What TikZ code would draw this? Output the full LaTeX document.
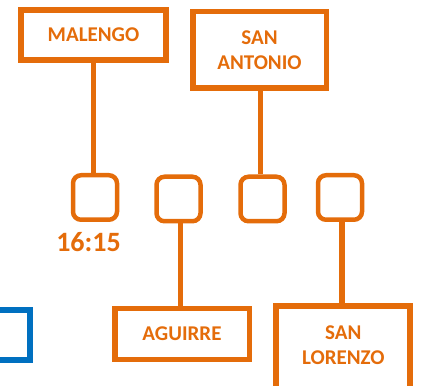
\documentclass[tikz,border=0pt]{standalone}
\usepackage{fontspec}
\setmainfont{Carlito}
\definecolor{org}{RGB}{228,108,10}
\definecolor{blu}{RGB}{0,112,192}
\begin{document}
\begin{tikzpicture}[x=1pt,y=1pt,
  lbl/.style={draw=org, line width=5.5pt, text=org, font=\bfseries\fontsize{21}{25}\selectfont, align=center, inner sep=0pt},
  sq/.style={draw=org, line width=4.5pt, rounded corners=8pt, minimum width=44pt, minimum height=44.5pt, inner sep=0pt},
  con/.style={draw=org, line width=5.5pt}]
\useasboundingbox (0,0) rectangle (421,386);
\clip (0,0) rectangle (421,386);
\node[lbl, minimum width=145pt, minimum height=50pt, line width=6pt] (mal) at (93.5,351) {MALENGO};
\node[lbl, minimum width=133.5pt, minimum height=76.5pt] (sa) at (259.5,336) {SAN\\ANTONIO};
\node[sq] (sq1) at (95,188.5) {};
\node[sq] (sq2) at (178.5,187) {};
\node[sq] (sq3) at (262.5,187) {};
\node[sq] (sq4) at (340,188.5) {};
\node[text=org, font=\bfseries\fontsize{28}{30}\selectfont, inner sep=0pt] (time) at (88.5,144) {16:15};
\node[lbl, minimum width=134.5pt, minimum height=51pt] (ag) at (182,52) {AGUIRRE};
\node[lbl, minimum width=134pt, minimum height=89.7pt, line width=6pt] (sl) at (343.3,34.85) {};
\node[text=org, font=\bfseries\fontsize{21}{25}\selectfont, align=center, inner sep=0pt] (sltext) at (343.3,41) {SAN\\LORENZO};
\node[draw=blu, line width=6pt, minimum width=60pt, minimum height=50pt, inner sep=0pt] (blue) at (-0.5,51) {};
\draw[con] (mal.south) -- (mal.south |- sq1.north);
\draw[con] ([xshift=1pt]sa.south) -- ([xshift=1pt]sa.south |- sq3.north);
\draw[con] ([xshift=-1.3pt]ag.north) -- ([xshift=-1.3pt]ag.north |- sq2.south);
\draw[con] ([xshift=2pt]sq4.south) -- ([xshift=2pt]sq4.south |- sl.north);
\end{tikzpicture}
\end{document}
